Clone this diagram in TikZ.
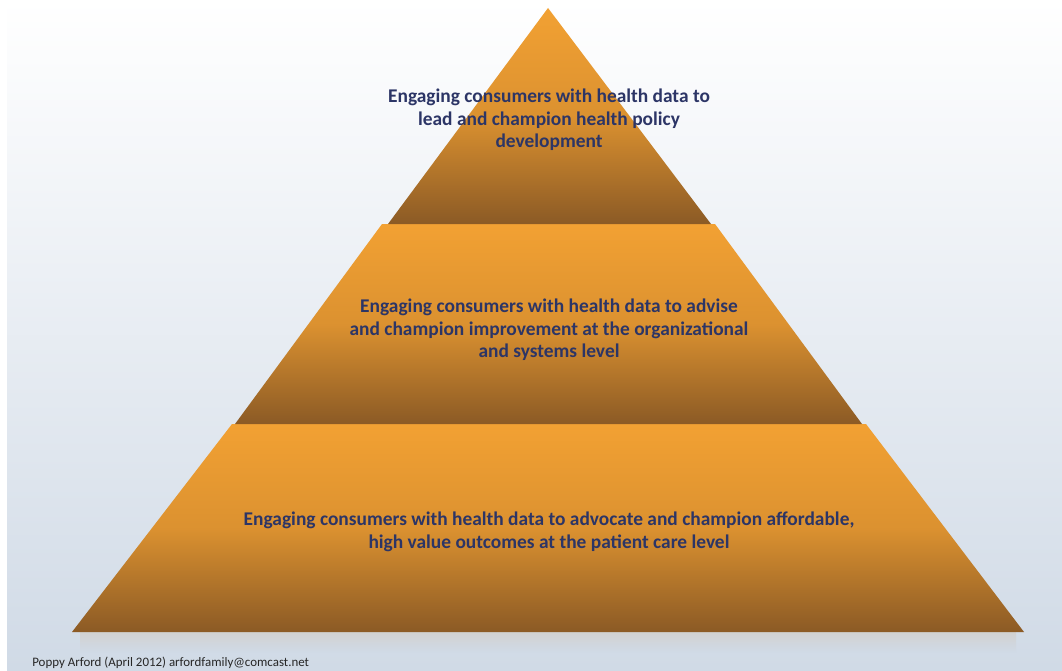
\documentclass[tikz,border=0pt]{standalone}
\usepackage{fontspec}
\setmainfont{Carlito}
\usetikzlibrary{positioning}
\definecolor{tierlight}{HTML}{F2A133}
\definecolor{tierdark}{HTML}{8B5A25}
\definecolor{textnavy}{HTML}{2C3566}
\definecolor{bgbottom}{HTML}{D0DAE6}
\begin{document}
\begin{tikzpicture}[x=0.025cm,y=0.025cm]
   \tikzset{tier/.style={top color=tierlight, bottom color=tierdark, middle color=tierlight!78!tierdark, draw=none},
            label/.style={text=textnavy, font=\fontsize{13.8}{16}\selectfont\bfseries, align=center}}

   \useasboundingbox (0,0) rectangle (1062,-670);
   \shade [top color=white, bottom color=bgbottom] (7,0) rectangle (1062,-670);

   % shadow under the base
   \shade [top color=black!18, bottom color=bgbottom] (80,-632) rectangle (1016,-652);

   % the three tiers
   \shade [tier] (72,-632) -- (232,-424) -- (866,-424) -- (1024,-632) -- cycle;
   \shade [tier] (235,-424) -- (382,-224) -- (715,-224) -- (862,-424) -- cycle;
   \shade [tier] (388,-224) -- (548,-8) -- (711,-224) -- cycle;

   \node (toptext) [label] at (549,-120) {Engaging consumers with health data to\\ lead and champion health policy\\ development};
   \node (midtext) [label] at (549,-330) {Engaging consumers with health data to advise\\ and champion improvement at the organizational\\ and systems level};
   \node (basetext) [label] at (549,-532) {Engaging consumers with health data to advocate and champion affordable,\\ high value outcomes at the patient care level};

   \node (credit) [anchor=base west, font=\fontsize{9.2}{11}\selectfont, text=black!85, inner sep=0pt] at (32,-666) {Poppy Arford (April 2012) arfordfamily@comcast.net};
\end{tikzpicture}
\end{document}
